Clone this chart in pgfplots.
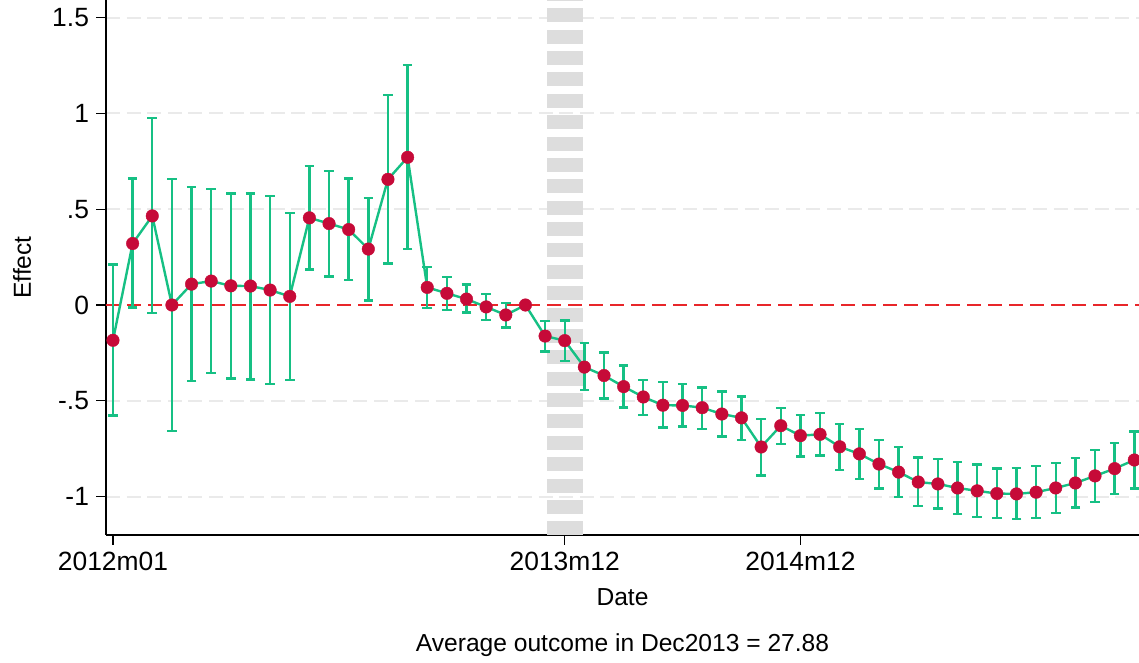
\documentclass[border=0pt]{standalone}
\usepackage{fontspec}
\setmainfont{Liberation Sans}
\usepackage{pgfplots}
\pgfplotsset{compat=1.18}
\usepackage{pgfplotstable}

\definecolor{ciGreen}{RGB}{22,192,132}
\definecolor{ptRed}{RGB}{198,10,56}
\definecolor{zeroRed}{RGB}{232,38,42}
\definecolor{gridGray}{RGB}{234,234,234}
\definecolor{bandGray}{RGB}{221,221,221}

% month index, estimate, lower CI, upper CI
\pgfplotstableread{
x  y      lo     hi
0  -0.184 -0.576  0.212
1   0.321 -0.014  0.660
2   0.465 -0.042  0.977
3   0.000 -0.658  0.658
4   0.109 -0.396  0.615
5   0.125 -0.356  0.606
6   0.100 -0.384  0.582
7   0.099 -0.389  0.582
8   0.078 -0.413  0.568
9   0.045 -0.392  0.481
10  0.455  0.186  0.727
11  0.425  0.149  0.698
12  0.394  0.130  0.660
13  0.292  0.024  0.557
14  0.656  0.217  1.097
15  0.771  0.291  1.253
16  0.092 -0.016  0.197
17  0.061 -0.025  0.147
18  0.031 -0.040  0.106
19 -0.010 -0.077  0.056
20 -0.052 -0.117  0.010
21  0.000  0.000  0.000
22 -0.162 -0.242 -0.082
23 -0.186 -0.293 -0.080
24 -0.324 -0.444 -0.199
25 -0.368 -0.487 -0.248
26 -0.426 -0.535 -0.316
27 -0.480 -0.573 -0.391
28 -0.523 -0.639 -0.403
29 -0.524 -0.634 -0.411
30 -0.536 -0.646 -0.431
31 -0.569 -0.686 -0.451
32 -0.589 -0.703 -0.477
33 -0.741 -0.889 -0.595
34 -0.630 -0.724 -0.538
35 -0.682 -0.790 -0.575
36 -0.675 -0.786 -0.563
37 -0.740 -0.861 -0.620
38 -0.777 -0.909 -0.646
39 -0.830 -0.957 -0.703
40 -0.872 -1.001 -0.742
41 -0.924 -1.049 -0.795
42 -0.934 -1.063 -0.804
43 -0.955 -1.090 -0.819
44 -0.970 -1.108 -0.832
45 -0.984 -1.113 -0.854
46 -0.986 -1.118 -0.851
47 -0.977 -1.111 -0.840
48 -0.955 -1.085 -0.825
49 -0.929 -1.057 -0.799
50 -0.892 -1.028 -0.757
51 -0.854 -0.986 -0.719
52 -0.809 -0.957 -0.661
}\effects

\begin{document}
\begin{tikzpicture}[font=\fontsize{12.3}{14}\selectfont]
\useasboundingbox (-53pt,-64pt) rectangle (516.5pt,267.5pt);
\begin{axis}[
  at={(0,0)}, anchor=south west,
  scale only axis,
  width=516.5pt, height=267.5pt,
  xmin=-0.356, xmax=52.24,
  ymin=-1.2004, ymax=1.592,
  axis x line*=bottom, axis y line*=left,
  axis line style={black, line width=0.6pt, -},
  tick align=outside,
  major tick length=5pt,
  tick style={black, line width=0.6pt},
  ticklabel style={font=\fontsize{13.2}{15}\selectfont},
  xtick={0,23,35},
  xticklabels={2012m01,2013m12,2014m12},
  ytick={-1,-0.5,0.5,1,1.5},
  yticklabels={-1,-.5,.5,1,1.5},
  extra y ticks={0},
  extra y tick labels={0},
  extra y tick style={grid=none},
  ymajorgrids,
  grid style={gridGray, line width=1pt, dash pattern=on 7pt off 3.3pt},
  xlabel={Date},
  ylabel={Effect},
  every axis x label/.style={at={(axis description cs:0.5,0)}, anchor=center, yshift=-31pt},
  every axis y label/.style={at={(axis description cs:-0.0813,0.5)}, anchor=center, rotate=90},
  clip=false,
]
% reference period band
\addplot[bandGray, line width=18pt, dash pattern=on 7pt off 3.69pt, dash phase=6.55pt]
  coordinates {(23,1.592) (23,-1.2004)};
% zero line
\addplot[zeroRed, line width=0.7pt, dash pattern=on 7pt off 3.5pt]
  coordinates {(-0.356,0) (52.24,0)};
% estimates with confidence intervals
\addplot[ciGreen, line width=1.2pt, mark=none,
  error bars/.cd, y dir=both, y explicit,
  error bar style={ciGreen, line width=1.2pt},
  error mark options={rotate=90, mark size=2.4pt, line width=1.2pt, ciGreen}]
  table[x=x, y=y,
        y error plus expr={\thisrow{hi}-\thisrow{y}},
        y error minus expr={\thisrow{y}-\thisrow{lo}}] {\effects};
\addplot[only marks, mark=*, mark size=3.15pt, mark options={fill=ptRed, draw=ptRed, line width=0.2pt}]
  table[x=x, y=y] {\effects};
\node[anchor=center] at (axis description cs:0.5,0) [yshift=-55pt] {Average outcome in Dec2013 = 27.88};
\end{axis}
\end{tikzpicture}
\end{document}
